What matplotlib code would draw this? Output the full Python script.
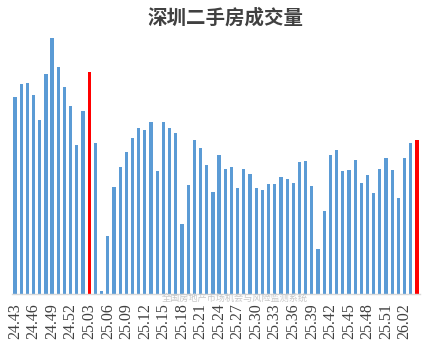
import matplotlib.pyplot as plt
import numpy as np

# weekly labels 24.43 .. 26.04
weeks = ([f"24.{w:02d}" for w in range(43, 53)]
         + [f"25.{w:02d}" for w in range(1, 53)]
         + [f"26.{w:02d}" for w in range(1, 5)])

# 成交量 (arbitrary units)
volume = [197, 210, 211, 199, 174, 220, 256, 227, 207, 188,
          149, 183, 222, 151, 3, 58, 107, 127, 142, 156,
          166, 164, 172, 123, 172, 166, 161, 70, 109, 154,
          146, 129, 102, 139, 125, 127, 106, 125, 120, 106,
          104, 110, 110, 117, 115, 111, 132, 133, 108, 45,
          83, 139, 144, 123, 124, 134, 111, 119, 101, 125,
          136, 124, 96, 136, 151, 154]

highlight = ["25.03", "26.04"]

BLUE = "#5B9BD5"
RED = "#FF0000"

colors = [RED if w in highlight else BLUE for w in weeks]
x = np.arange(len(weeks))

fig = plt.figure(figsize=(4.36, 3.54), dpi=100)
ax = fig.add_axes([0.0273, 0.1695, 0.9362, 0.7458])

ax.bar(x, volume, width=0.52, color=colors, zorder=2)
ax.set_xlim(-0.5, len(weeks) - 0.5)
ax.set_ylim(0, 264)

ax.set_xticks(x[::3])
ax.set_xticklabels(weeks[::3], rotation=90, fontsize=11.5,
                   family="Liberation Serif", color="#404040")
ax.tick_params(axis="x", length=0, pad=6.5)
ax.set_yticks([])

for side in ["top", "right", "left"]:
    ax.spines[side].set_visible(False)
ax.spines["bottom"].set_color("#D9D9D9")
ax.spines["bottom"].set_linewidth(1)

fig.text(0.516, 0.949, "深圳二手房成交量", ha="center", va="center",
         fontsize=14, fontweight="bold", color="#404040",
         family=["Noto Sans CJK SC", "DejaVu Sans"])
fig.text(0.539, 0.158, "全国房地产市场机会与风险监测系统", ha="center",
         va="center", fontsize=6.6, color="#C8C8C8",
         family=["Noto Sans CJK SC", "DejaVu Sans"])

fig.savefig("out.png", dpi=100)
